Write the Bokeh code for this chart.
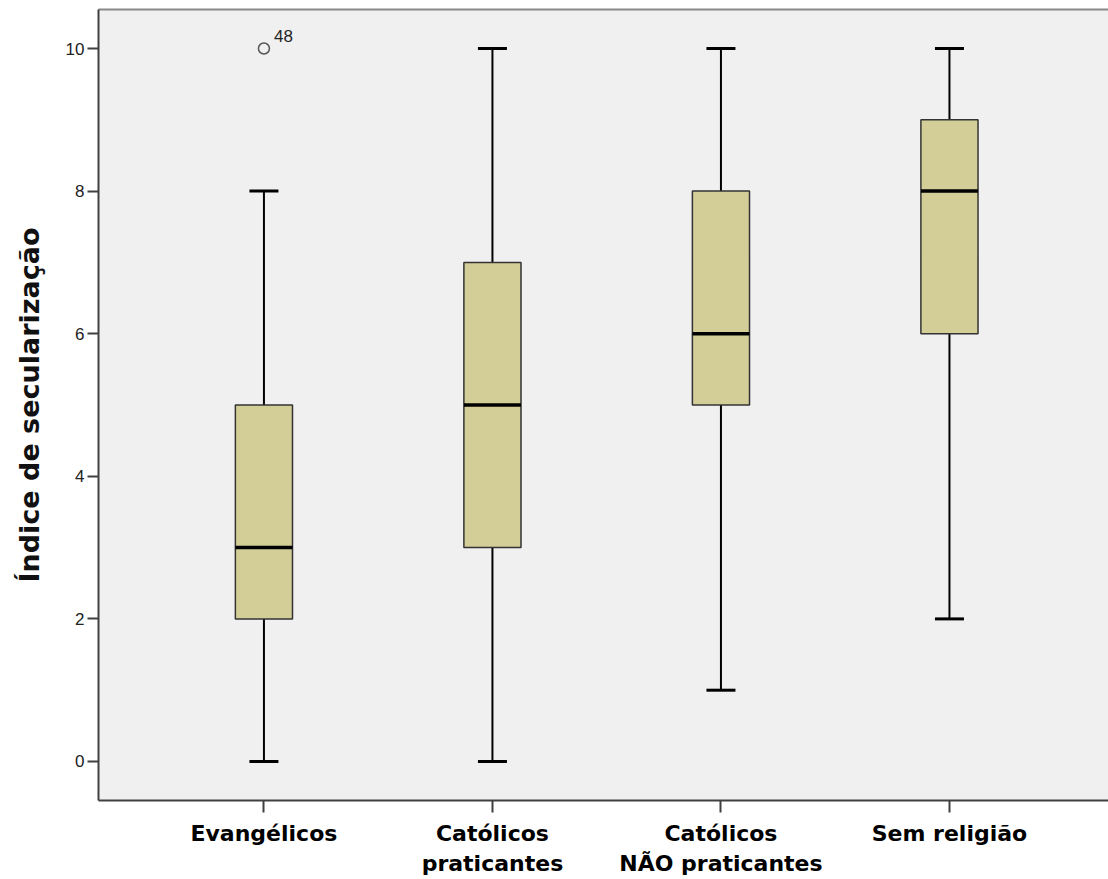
from bokeh.plotting import figure
from bokeh.models import Range1d, FixedTicker, LinearAxis
from bokeh.embed import file_html
from bokeh.resources import INLINE
from bokeh.core.properties import value

# ---- data ----
categories = ["Evangélicos", "Católicos\npraticantes", "Católicos\nNÃO praticantes", "Sem religião"]
mins = [0, 0, 1, 2]
q1 = [2, 3, 5, 6]
medians = [3, 5, 6, 8]
q3 = [5, 7, 8, 9]
maxs = [8, 10, 10, 10]
outlier_group = [1]
outlier_values = [10]
outlier_labels = ["48"]
y_ticks = [0, 2, 4, 6, 8, 10]

xs = list(range(1, len(categories) + 1))

p = figure(width=1108, height=878, output_backend="svg", toolbar_location=None,
           x_range=Range1d(0.276, 4.696), y_range=Range1d(-0.547, 10.547),
           min_border_left=98, min_border_right=0, min_border_top=9, min_border_bottom=78)

p.background_fill_color = "#F0F0F0"
p.border_fill_color = "white"
p.outline_line_color = None
p.xgrid.visible = False
p.ygrid.visible = False

# whiskers
p.segment(x0=xs, y0=q3, x1=xs, y1=maxs, line_color="black", line_width=2)
p.segment(x0=xs, y0=mins, x1=xs, y1=q1, line_color="black", line_width=2)
# boxes
p.vbar(x=xs, bottom=q1, top=q3, width=0.25, fill_color="#D3CE98",
       line_color="#333333", line_width=1.5)
# medians
p.scatter(x=xs, y=medians, marker="dash", size=57, line_color="black", line_width=3.5)
# caps
p.scatter(x=xs, y=maxs, marker="dash", size=29, line_color="black", line_width=3)
p.scatter(x=xs, y=mins, marker="dash", size=29, line_color="black", line_width=3)
# outliers
p.scatter(x=outlier_group, y=outlier_values, marker="circle", size=11,
          fill_color=None, line_color="#555555", line_width=1.5)
p.text(x=outlier_group, y=outlier_values, text=outlier_labels, x_offset=10, y_offset=-13,
       text_font=value("Liberation Sans"), text_font_size="17px", text_color="#222222",
       text_baseline="alphabetic", text_align="left")

# x axis
xa = p.xaxis[0]
xa.ticker = FixedTicker(ticks=xs)
xa.major_label_overrides = {x: c for x, c in zip(xs, categories)}
xa.major_label_text_font = "DejaVu Sans"
xa.major_label_text_font_style = "bold"
xa.major_label_text_font_size = "22px"
xa.major_label_text_color = "black"
xa.major_label_standoff = 8
xa.axis_line_color = "#404040"
xa.axis_line_width = 2
xa.major_tick_line_color = "#404040"
xa.major_tick_line_width = 2
xa.major_tick_in = 0
xa.major_tick_out = 12
xa.minor_tick_line_color = None

# y axis
ya = p.yaxis[0]
ya.ticker = FixedTicker(ticks=y_ticks)
ya.major_label_text_font = "Liberation Sans"
ya.major_label_text_font_size = "17px"
ya.major_label_text_color = "#222222"
ya.major_label_standoff = 3
ya.axis_line_color = "#404040"
ya.axis_line_width = 2
ya.major_tick_line_color = "#404040"
ya.major_tick_line_width = 2
ya.major_tick_in = 0
ya.major_tick_out = 11
ya.minor_tick_line_color = None
ya.axis_label = "Índice de secularização"
ya.axis_label_text_font = "DejaVu Sans"
ya.axis_label_text_font_style = "bold"
ya.axis_label_text_font_size = "27px"
ya.axis_label_text_color = "#111111"
ya.axis_label_standoff = 18

# top border line
top = LinearAxis(ticker=FixedTicker(ticks=[]))
top.axis_line_color = "#888888"
top.axis_line_width = 2
top.major_tick_out = 0
top.major_tick_in = 0
top.minor_tick_line_color = None
top.major_label_text_font_size = "0px"
top.major_label_standoff = 0
p.add_layout(top, "above")

open("out.html", "w").write(file_html(p, INLINE))
